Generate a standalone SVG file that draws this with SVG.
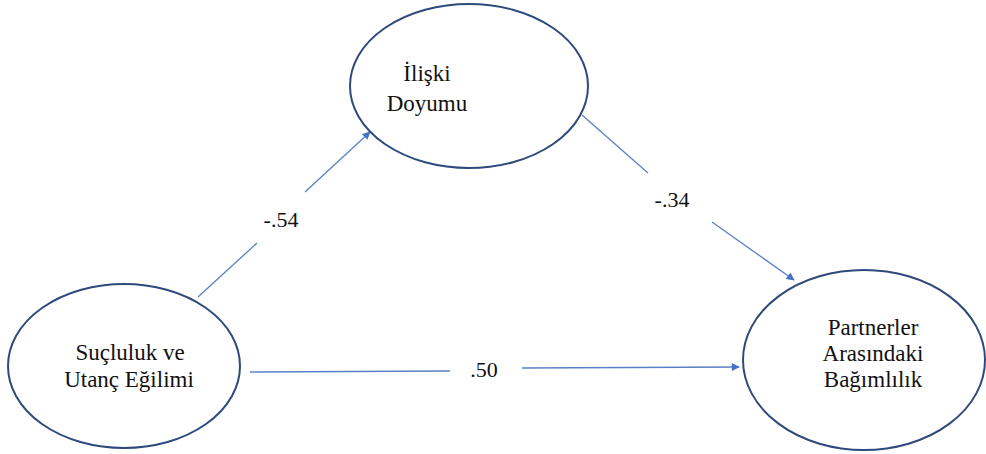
<svg xmlns="http://www.w3.org/2000/svg" width="986" height="454" viewBox="0 0 986 454">
<style>
.node{fill:#fff;stroke:#2E4A7C;stroke-width:2}
text{fill:#111;text-anchor:middle}
.lbl{font-size:23px}
.coef{font-size:22px}
.edge{stroke:#5B7FC7;stroke-width:1.3;fill:none}
</style>
<defs>
<marker id="arr" viewBox="0 0 10 10" refX="9" refY="5" markerWidth="10" markerHeight="8" markerUnits="userSpaceOnUse" orient="auto">
<path d="M0,0 L10,5 L0,10 Z" fill="#4472C4"/>
</marker>
</defs>
<rect width="986" height="454" fill="#fff"/>
<g font-family="Liberation Serif, Times New Roman, serif">
<g id="connectors">
<line class="edge" x1="198" y1="297" x2="257" y2="243"/>
<line class="edge" x1="305" y1="192" x2="370" y2="132" marker-end="url(#arr)"/>
<text class="coef" x="281" y="227">-.54</text>
<line class="edge" x1="582" y1="115" x2="648" y2="173"/>
<line class="edge" x1="712" y1="222" x2="794" y2="280" marker-end="url(#arr)"/>
<text class="coef" x="672" y="207">-.34</text>
<line class="edge" x1="250" y1="372" x2="450" y2="371"/>
<line class="edge" x1="522" y1="368" x2="739" y2="367" marker-end="url(#arr)"/>
<text class="coef" x="484" y="377">.50</text>
</g>
<g id="node-iliski">
<ellipse class="node" cx="469" cy="86" rx="119" ry="82"/>
<text class="lbl" x="427" y="81" text-anchor="start">İlişki</text>
<text class="lbl" x="427" y="111" text-anchor="start">Doyumu</text>
</g>
<g id="node-sucluluk">
<ellipse class="node" cx="124" cy="366" rx="116" ry="82"/>
<text class="lbl" x="130" y="360">Suçluluk ve</text>
<text class="lbl" x="129" y="387">Utanç Eğilimi</text>
</g>
<g id="node-partner">
<ellipse class="node" cx="864" cy="360" rx="121" ry="90"/>
<text class="lbl" x="873" y="335">Partnerler</text>
<text class="lbl" x="873" y="361">Arasındaki</text>
<text class="lbl" x="873" y="387">Bağımlılık</text>
</g>
</g>
</svg>
